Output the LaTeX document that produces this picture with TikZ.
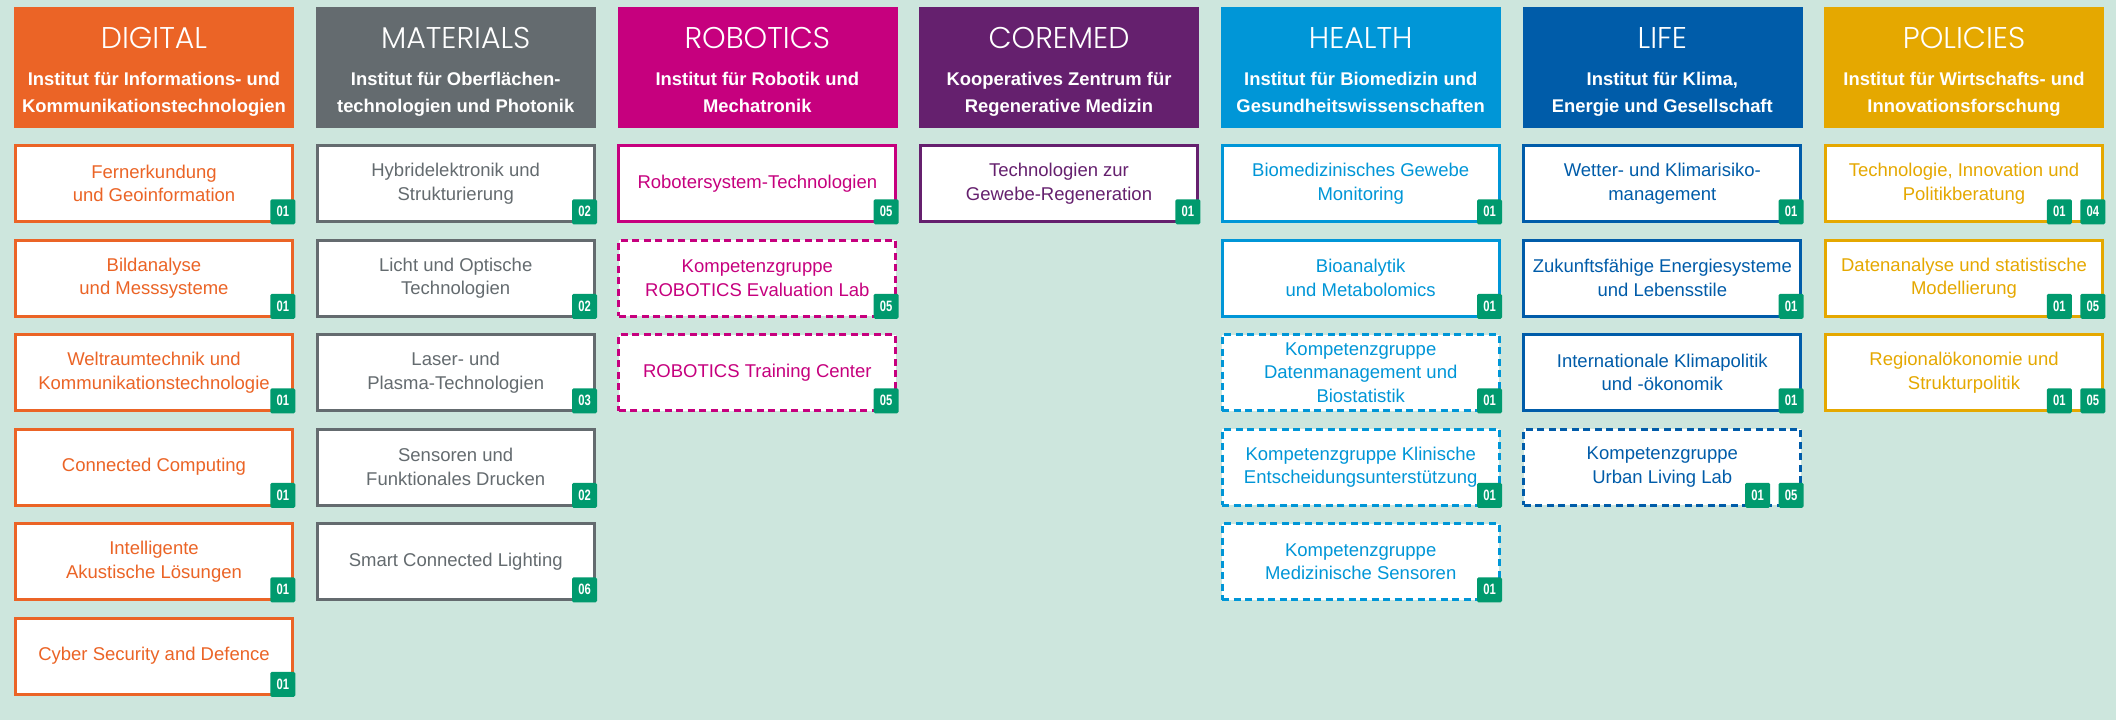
\documentclass[tikz,border=0pt]{standalone}
\usepackage{fontspec}
\setmainfont{Liberation Sans}
\newfontfamily\titlefont{Poppins Light}
\newfontfamily\badgefont[FakeStretch=0.75]{Liberation Sans Bold}
\definecolor{bgmint}{HTML}{CDE6DD}
\definecolor{cdig}{HTML}{EB6426}
\definecolor{cmat}{HTML}{646B6F}
\definecolor{crob}{HTML}{C6007E}
\definecolor{ccor}{HTML}{65206E}
\definecolor{chea}{HTML}{0096D7}
\definecolor{clif}{HTML}{005CA9}
\definecolor{cpol}{HTML}{E5A800}
\definecolor{cbadge}{HTML}{009A6E}
\tikzset{
  hdr/.style={fill=#1, draw=none, minimum width=280pt, minimum height=121pt, inner sep=0pt, anchor=north west},
  ttl/.style={text=white, font=\titlefont\fontsize{30}{30}\selectfont, anchor=base, inner sep=0pt},
  sub/.style={text=white, font=\bfseries\fontsize{18.4}{27}\selectfont, align=center, anchor=base, inner sep=0pt},
  unit/.style={draw=#1, text=#1, line width=3pt, fill=white, minimum width=277pt, minimum height=76pt, inner sep=0pt, align=center, font=\fontsize{18.5}{23.5}\selectfont},
  grp/.style={unit=#1, dash pattern=on 7pt off 4.5pt},
  bdg/.style={fill=cbadge, text=white, font=\badgefont\fontsize{15}{15}\selectfont, minimum width=25pt, minimum height=25pt, inner sep=0pt, rounded corners=1.5pt, anchor=south east}
}
\newcommand\ubox[5]{\node[#4] (#1) at ({#2+140},{#3+39.5}) {#5};}
\newcommand\bdgA[3]{\node[bdg] (#1) at ([xshift=1.5pt,yshift=-1.5pt]#2.south east) {#3};}
\newcommand\bdgB[3]{\node[bdg] (#1) at ([xshift=-32pt,yshift=-1.5pt]#2.south east) {#3};}
\begin{document}
\begin{tikzpicture}[x=1pt,y=-1pt]
\path[use as bounding box, fill=bgmint] (0,0) rectangle (2116,720);
% ---------- headers
\node[hdr=cdig] (hdig) at (14,7) {};
\node[ttl] (tdig) at (154,48) {DIGITAL};
\node[sub] (sdig) at (154,112) {Institut für Informations- und\\Kommunikationstechnologien};
\node[hdr=cmat] (hmat) at (315.7,7) {};
\node[ttl] (tmat) at (455.7,48) {MATERIALS};
\node[sub] (smat) at (455.7,112) {Institut für Oberflächen-\\technologien und Photonik};
\node[hdr=crob] (hrob) at (617.3,7) {};
\node[ttl] (trob) at (757.3,48) {ROBOTICS};
\node[sub] (srob) at (757.3,112) {Institut für Robotik und\\Mechatronik};
\node[hdr=ccor] (hcor) at (919,7) {};
\node[ttl] (tcor) at (1059,48) {COREMED};
\node[sub] (scor) at (1059,112) {Kooperatives Zentrum für\\Regenerative Medizin};
\node[hdr=chea] (hhea) at (1220.7,7) {};
\node[ttl] (thea) at (1360.7,48) {HEALTH};
\node[sub] (shea) at (1360.7,112) {Institut für Biomedizin und\\Gesundheitswissenschaften};
\node[hdr=clif] (hlif) at (1522.3,7) {};
\node[ttl] (tlif) at (1662.3,48) {LIFE};
\node[sub] (slif) at (1662.3,112) {Institut für Klima,\\Energie und Gesellschaft};
\node[hdr=cpol] (hpol) at (1824,7) {};
\node[ttl] (tpol) at (1964,48) {POLICIES};
\node[sub] (spol) at (1964,112) {Institut für Wirtschafts- und\\Innovationsforschung};
% ---------- DIGITAL
\ubox{d1}{14}{144}{unit=cdig}{Fernerkundung\\und Geoinformation}\bdgA{d1a}{d1}{01}
\ubox{d2}{14}{238.5}{unit=cdig}{Bildanalyse\\und Messsysteme}\bdgA{d2a}{d2}{01}
\ubox{d3}{14}{333}{unit=cdig}{Weltraumtechnik und\\Kommunikationstechnologie}\bdgA{d3a}{d3}{01}
\ubox{d4}{14}{427.5}{unit=cdig}{Connected Computing}\bdgA{d4a}{d4}{01}
\ubox{d5}{14}{522}{unit=cdig}{Intelligente\\Akustische Lösungen}\bdgA{d5a}{d5}{01}
\ubox{d6}{14}{616.5}{unit=cdig}{Cyber Security and Defence}\bdgA{d6a}{d6}{01}
% ---------- MATERIALS
\ubox{m1}{315.7}{144}{unit=cmat}{Hybridelektronik und\\Strukturierung}\bdgA{m1a}{m1}{02}
\ubox{m2}{315.7}{238.5}{unit=cmat}{Licht und Optische\\Technologien}\bdgA{m2a}{m2}{02}
\ubox{m3}{315.7}{333}{unit=cmat}{Laser- und\\Plasma-Technologien}\bdgA{m3a}{m3}{03}
\ubox{m4}{315.7}{427.5}{unit=cmat}{Sensoren und\\Funktionales Drucken}\bdgA{m4a}{m4}{02}
\ubox{m5}{315.7}{522}{unit=cmat}{Smart Connected Lighting}\bdgA{m5a}{m5}{06}
% ---------- ROBOTICS
\ubox{r1}{617.3}{144}{unit=crob}{Robotersystem-Technologien}\bdgA{r1a}{r1}{05}
\ubox{r2}{617.3}{238.5}{grp=crob}{Kompetenzgruppe\\ROBOTICS Evaluation Lab}\bdgA{r2a}{r2}{05}
\ubox{r3}{617.3}{333}{grp=crob}{ROBOTICS Training Center}\bdgA{r3a}{r3}{05}
% ---------- COREMED
\ubox{c1}{919}{144}{unit=ccor}{Technologien zur\\Gewebe-Regeneration}\bdgA{c1a}{c1}{01}
% ---------- HEALTH
\ubox{h1}{1220.7}{144}{unit=chea}{Biomedizinisches Gewebe\\Monitoring}\bdgA{h1a}{h1}{01}
\ubox{h2}{1220.7}{238.5}{unit=chea}{Bioanalytik\\und Metabolomics}\bdgA{h2a}{h2}{01}
\ubox{h3}{1220.7}{333}{grp=chea}{Kompetenzgruppe\\Datenmanagement und\\Biostatistik}\bdgA{h3a}{h3}{01}
\ubox{h4}{1220.7}{427.5}{grp=chea}{Kompetenzgruppe Klinische\\Entscheidungsunterstützung}\bdgA{h4a}{h4}{01}
\ubox{h5}{1220.7}{522}{grp=chea}{Kompetenzgruppe\\Medizinische Sensoren}\bdgA{h5a}{h5}{01}
% ---------- LIFE
\ubox{l1}{1522.3}{144}{unit=clif}{Wetter- und Klimarisiko-\\management}\bdgA{l1a}{l1}{01}
\ubox{l2}{1522.3}{238.5}{unit=clif}{Zukunftsfähige Energiesysteme\\und Lebensstile}\bdgA{l2a}{l2}{01}
\ubox{l3}{1522.3}{333}{unit=clif}{Internationale Klimapolitik\\und -ökonomik}\bdgA{l3a}{l3}{01}
\ubox{l4}{1522.3}{427.5}{grp=clif}{Kompetenzgruppe\\Urban Living Lab}\bdgA{l4a}{l4}{05}\bdgB{l4b}{l4}{01}
% ---------- POLICIES
\ubox{p1}{1824}{144}{unit=cpol}{Technologie, Innovation und\\Politikberatung}\bdgA{p1a}{p1}{04}\bdgB{p1b}{p1}{01}
\ubox{p2}{1824}{238.5}{unit=cpol}{Datenanalyse und statistische\\Modellierung}\bdgA{p2a}{p2}{05}\bdgB{p2b}{p2}{01}
\ubox{p3}{1824}{333}{unit=cpol}{Regionalökonomie und\\Strukturpolitik}\bdgA{p3a}{p3}{05}\bdgB{p3b}{p3}{01}
\end{tikzpicture}
\end{document}
